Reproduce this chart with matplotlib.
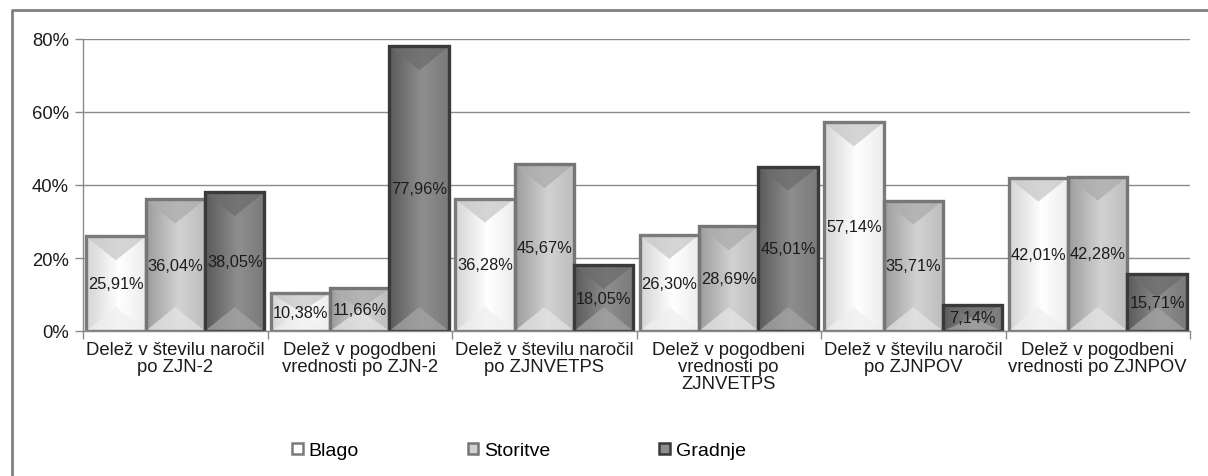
import matplotlib
matplotlib.use("Agg")
import matplotlib.pyplot as plt
import numpy as np
from matplotlib.colors import to_rgb
from matplotlib.lines import Line2D
from matplotlib.patches import Patch, Polygon, Rectangle

plt.rcParams["font.family"] = ["Liberation Sans", "DejaVu Sans"]

categories = [
    "Delež v številu naročil\npo ZJN-2",
    "Delež v pogodbeni\nvrednosti po ZJN-2",
    "Delež v številu naročil\npo ZJNVETPS",
    "Delež v pogodbeni\nvrednosti po\nZJNVETPS",
    "Delež v številu naročil\npo ZJNPOV",
    "Delež v pogodbeni\nvrednosti po ZJNPOV",
]
series = ["Blago", "Storitve", "Gradnje"]
blago = [25.91, 10.38, 36.28, 26.30, 57.14, 42.01]
storitve = [36.04, 11.66, 45.67, 28.69, 35.71, 42.28]
gradnje = [38.05, 77.96, 18.05, 45.01, 7.14, 15.71]
yticks = [0, 20, 40, 60, 80]

# bevel look per series: edge, gradient stops (left, middle, right), top / bottom facets
styles = {
    "Blago": dict(edge="#7a7a7a", grad=["#d4d4d4", "#ffffff", "#ececec"],
                  top="#c8c8c8", bottom="#efefef"),
    "Storitve": dict(edge="#767676", grad=["#9c9c9c", "#d2d2d2", "#bdbdbd"],
                     top="#acacac", bottom="#e4e4e4"),
    "Gradnje": dict(edge="#3a3a3a", grad=["#5a5a5a", "#8e8e8e", "#7a7a7a"],
                    top="#6c6c6c", bottom="#a4a4a4"),
}

W, H = 1208, 477
fig = plt.figure(figsize=(W / 100, H / 100), dpi=100)
ax = fig.add_axes([83 / W, 1 - 332 / H, (1190 - 83) / W, (332 - 40) / H])

x = np.arange(len(categories))
bw = 0.322
ax.set_xlim(-0.5, len(categories) - 0.5)
ax.set_ylim(0, 80)

px_per_y = ax.bbox.height / 80.0
tri_h = 24 / px_per_y


def bevel_bar(rect, st):
    x0, w, h = rect.get_x(), rect.get_width(), rect.get_height()
    x1, xc = x0 + w, x0 + w / 2
    t = np.linspace(0, 1, 64)
    stops = np.array([to_rgb(c) for c in st["grad"]])
    img = np.stack([np.interp(t, [0, 0.55, 1], stops[:, k]) for k in range(3)], axis=-1)
    im = ax.imshow(img[None, :, :], extent=[x0, x1, 0, h], aspect="auto",
                   interpolation="bilinear", zorder=2.05)
    im.set_clip_path(rect)
    th = min(tri_h, h / 2)
    ax.add_patch(Polygon([(x0, h), (x1, h), (xc, h - th)], closed=True,
                         fc=st["top"], ec="none", alpha=0.75, zorder=2.1))
    ax.add_patch(Polygon([(x0, 0), (x1, 0), (xc, th)], closed=True,
                         fc=st["bottom"], ec="none", alpha=0.75, zorder=2.1))
    ax.add_patch(Rectangle((x0, 0), w, h, fill=False, ec=st["edge"], lw=2.4, zorder=2.2))


for i, (name, vals) in enumerate(zip(series, [blago, storitve, gradnje])):
    st = styles[name]
    bars = ax.bar(x + (i - 1) * bw, vals, bw, color=st["grad"][1], edgecolor="none", zorder=2)
    for rect, v in zip(bars, vals):
        bevel_bar(rect, st)
        ax.text(rect.get_x() + rect.get_width() / 2, v / 2, f"{v:.2f}%".replace(".", ","),
                ha="center", va="center", fontsize=11.8, color="#1c1c1c", zorder=3)

ax.set_xlim(-0.5, len(categories) - 0.5)
ax.set_ylim(0, 80)

ax.set_yticks(yticks)
ax.set_yticklabels([f"{v}%" for v in yticks], fontsize=13.3, color="#1c1c1c")
ax.yaxis.grid(True, color="#8a8a8a", lw=1)
ax.set_axisbelow(True)
ax.tick_params(axis="y", length=6, width=1, color="#8a8a8a", pad=4)

ax.set_xticks(x)
ax.set_xticklabels(categories, fontsize=13.3, color="#1c1c1c", linespacing=1.02)
ax.set_xticks(np.arange(-0.5, len(categories)), minor=True)
ax.tick_params(axis="x", which="major", length=0, pad=7)
ax.tick_params(axis="x", which="minor", length=6, width=1, color="#8a8a8a")

for side in ["top", "right"]:
    ax.spines[side].set_visible(False)
for side in ["left", "bottom"]:
    ax.spines[side].set_color("#8a8a8a")
    ax.spines[side].set_linewidth(1)

handles = [Patch(facecolor=styles[n]["grad"][1], edgecolor=styles[n]["edge"], lw=1.8)
           for n in series]
fig.legend(handles, series, loc="center left", bbox_to_anchor=(292 / W, 1 - 452 / H),
           ncol=3, frameon=False, fontsize=14, handlelength=0.55, handleheight=0.55,
           handletextpad=0.3, columnspacing=5.6, borderpad=0, borderaxespad=0)

# outer chart frame (only top and left edges fall inside the picture)
fig.add_artist(Line2D([12 / W, 12 / W, 1.0], [0.0, 1 - 11 / H, 1 - 11 / H],
                      transform=fig.transFigure, color="#808080", lw=2))

fig.savefig("out.png", dpi=100)
